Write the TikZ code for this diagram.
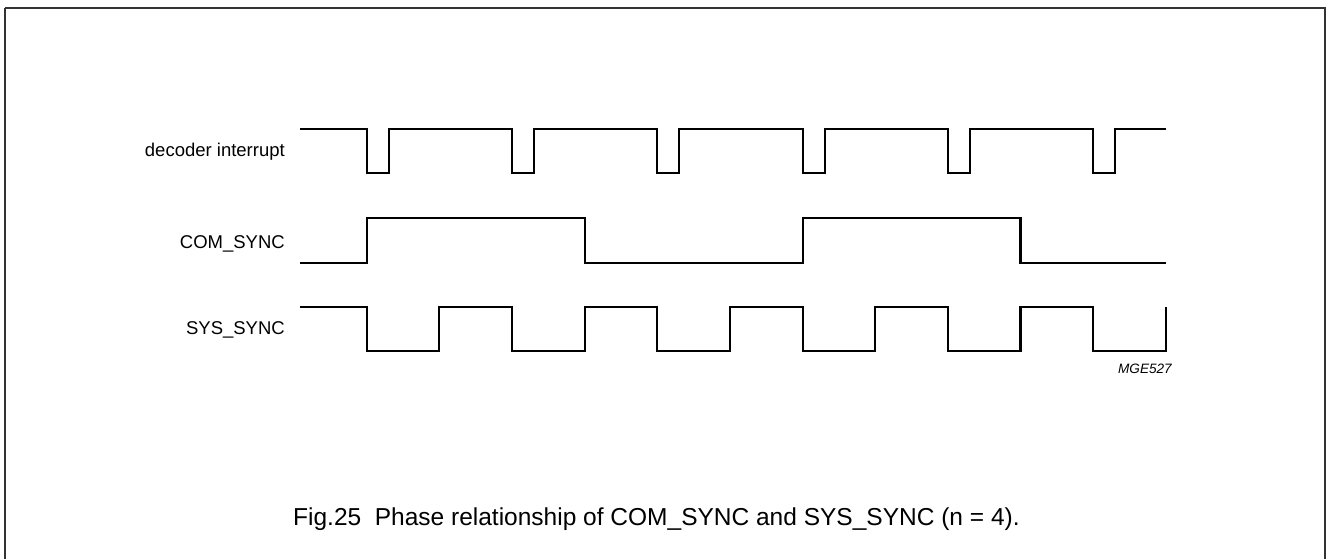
\documentclass[tikz,border=0pt]{standalone}
\usepackage{fontspec}
\setmainfont{Liberation Sans}
\begin{document}
\begin{tikzpicture}[x=1pt,y=-1pt,
  sig/.style={line width=2.2pt,line join=miter,black},
  frame/.style={line width=1.4pt,black!80},
  lbl/.style={inner sep=0pt,anchor=base east,font=\fontsize{18.5}{22}\selectfont},
  capt/.style={inner sep=0pt,anchor=base west,font=\fontsize{24.5}{29}\selectfont},
  code/.style={inner sep=0pt,anchor=base east,font=\fontsize{13.6}{16}\selectfont\itshape}]
\useasboundingbox (0,0) rectangle (1330,559);
\fill[white] (0,0) rectangle (1330,559);
\draw[frame] (5,8) -- (1325,8) -- (1325,570);
\draw[frame] (5,8) -- (5,570);
% labels
\node[lbl] (ldec) at (285,157) {decoder interrupt};
\node[lbl] (lcom) at (285,248.3) {COM\_SYNC};
\node[lbl] (lsys) at (285,334.3) {SYS\_SYNC};
\node[code] (mge) at (1172,373.3) {MGE527};
\node[capt] (cap) at (293,525) {Fig.25\ \ Phase relationship of COM\_SYNC and SYS\_SYNC (n = 4).};
% decoder interrupt
\draw[sig] (300,129)
  \foreach \k in {0,...,5}{
    -- ({366.7+145.3*\k},129) -- ({366.7+145.3*\k},173)
    -- ({388.7+145.3*\k},173) -- ({388.7+145.3*\k},129)}
  -- (1166,129);
% COM_SYNC
\draw[sig] (300,262.7) -- (366.7,262.7) -- (366.7,218.3) -- (584.65,218.3)
  -- (584.65,262.7) -- (802.6,262.7) -- (802.6,218.3) -- (1020.55,218.3)
  -- (1020.55,262.7) -- (1166,262.7);
% SYS_SYNC
\draw[sig] (300,306.7)
  \foreach \k in {0,...,5}{
    -- ({366.7+145.3*\k},306.7) -- ({366.7+145.3*\k},350.7)
    -- ({439.35+145.3*\k},350.7) -- ({439.35+145.3*\k},306.7)};
\end{tikzpicture}
\end{document}
